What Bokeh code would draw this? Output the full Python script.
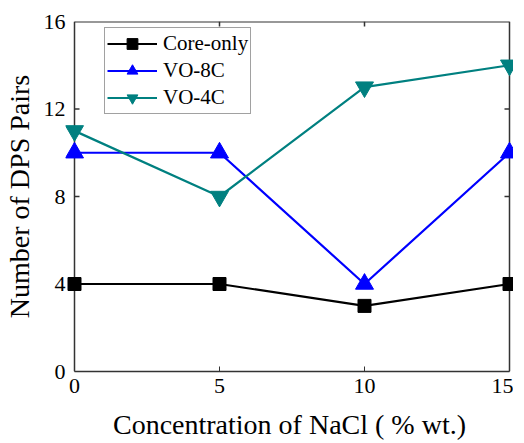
import math
from bokeh.plotting import figure
from bokeh.models import Range1d, FixedTicker, Span, Legend, LegendItem
from bokeh.embed import file_html
from bokeh.resources import INLINE

# ---- data ----
concentration = [0, 5, 10, 15]
core_only = [4, 4, 3, 4]
vo_8c = [10, 10, 4, 10]
vo_4c = [11, 8, 13, 14]
x_ticks = [0, 5, 10, 15]
y_ticks = [0, 4, 8, 12, 16]
inner_y_ticks = [4, 8, 12]
inner_x_ticks = [5, 10]

FONT = "Liberation Serif"
FRAME_COLOR = "#333333"

# layout (pixels)
PLOT_W = 435      # width between x=0 and x=15
PAD_L = 9         # extra frame room left of x=0 so markers are not clipped
PAD_R = 4
ppu = PLOT_W / 15.0
x0, x1 = x_ticks[0], x_ticks[-1]
y0, y1 = y_ticks[0], y_ticks[-1]

p = figure(
    x_range=Range1d(x0 - PAD_L / ppu, x1 + PAD_R / ppu),
    y_range=Range1d(y0, y1),
    frame_width=PLOT_W + PAD_L + PAD_R, frame_height=350,
    min_border_left=64, min_border_right=0, min_border_top=21, min_border_bottom=69,
    output_backend="svg", toolbar_location=None,
    background_fill_color="white", border_fill_color="white",
)
p.outline_line_color = None
p.xgrid.visible = False
p.ygrid.visible = False

# bottom axis
xa = p.xaxis[0]
xa.ticker = FixedTicker(ticks=x_ticks)
xa.bounds = (x0, x1)
xa.axis_line_color = FRAME_COLOR
xa.axis_line_width = 1.5
xa.major_tick_in = 5
xa.major_tick_out = 0
xa.major_tick_line_color = FRAME_COLOR
xa.minor_tick_line_color = None
xa.major_label_standoff = 7
xa.major_label_text_font = FONT
xa.major_label_text_font_size = "22px"
xa.major_label_text_color = "black"
xa.axis_label = "Concentration of NaCl ( % wt.)"
xa.axis_label_text_font = FONT
xa.axis_label_text_font_size = "28px"
xa.axis_label_text_font_style = "normal"
xa.axis_label_text_color = "black"
xa.axis_label_standoff = 13

# left axis (labels only; frame lines drawn with spans at x=0 and x=15)
ya = p.yaxis[0]
ya.ticker = FixedTicker(ticks=y_ticks)
ya.axis_line_color = None
ya.major_tick_line_color = None
ya.minor_tick_line_color = None
ya.major_tick_in = 0
ya.major_tick_out = 0
ya.major_label_standoff = 0
ya.major_label_text_font = FONT
ya.major_label_text_font_size = "22px"
ya.major_label_text_color = "black"
ya.axis_label = "Number of DPS Pairs"
ya.axis_label_text_font = FONT
ya.axis_label_text_font_size = "28px"
ya.axis_label_text_font_style = "normal"
ya.axis_label_text_color = "black"
ya.axis_label_standoff = 6

for loc in (x0, x1):
    p.add_layout(Span(location=loc, dimension="height", line_color=FRAME_COLOR,
                      line_width=1.5, level="underlay"))

# top frame line and inner ticks
p.segment(x0=[x0], y0=[y1], x1=[x1], y1=[y1], line_color=FRAME_COLOR, line_width=2,
          level="underlay")
p.ray(x=inner_x_ticks, y=[y1] * len(inner_x_ticks), length=5, length_units="screen",
      angle=-math.pi / 2, line_color=FRAME_COLOR, line_width=1.5, level="underlay")
p.ray(x=[x0] * len(inner_y_ticks), y=inner_y_ticks, length=5, length_units="screen",
      angle=0, line_color=FRAME_COLOR, line_width=1.5, level="underlay")
p.ray(x=[x1] * len(inner_y_ticks), y=inner_y_ticks, length=5, length_units="screen",
      angle=math.pi, line_color=FRAME_COLOR, line_width=1.5, level="underlay")

# series
series = [
    ("Core-only", core_only, "black", "square", 13),
    ("VO-8C", vo_8c, "#0000ff", "triangle", 18),
    ("VO-4C", vo_4c, "#008080", "inverted_triangle", 18),
]
items = []
for name, vals, color, marker, size in series:
    ln = p.line(concentration, vals, line_color=color, line_width=2.2)
    sc = p.scatter(concentration, vals, marker=marker, size=size,
                   fill_color=color, line_color=color)
    items.append(LegendItem(label=name, renderers=[ln, sc]))

legend = Legend(items=items, location=(39, 257))
legend.label_text_font = FONT
legend.label_text_font_size = "21px"
legend.label_text_color = "black"
legend.glyph_width = 50
legend.glyph_height = 27
legend.label_height = 27
legend.spacing = 0
legend.padding = 2
legend.margin = 0
legend.label_standoff = 6
legend.border_line_color = "#444444"
legend.border_line_width = 1
legend.background_fill_color = "white"
legend.background_fill_alpha = 1
p.add_layout(legend, "center")

open("out.html", "w").write(file_html(p, INLINE))
